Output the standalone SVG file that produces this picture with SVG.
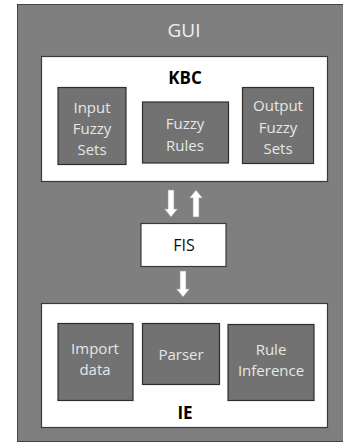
<svg xmlns="http://www.w3.org/2000/svg" width="343" height="443" viewBox="0 0 343 443">
<style>
.outer{fill:#7f7f7f;stroke:#444;stroke-width:1}
.panel{fill:#fff;stroke:#3a3a3a;stroke-width:1.2}
.box{fill:#727272;stroke:#2e2e2e;stroke-width:1.2}
.lt{font-family:"Open Sans","Liberation Sans",sans-serif;font-size:15px;fill:#e6e6e6;text-anchor:middle}
.dk{font-family:"Open Sans","Liberation Sans",sans-serif;font-size:16px;fill:#111;text-anchor:middle}
.bd{font-family:"Open Sans","Liberation Sans",sans-serif;font-size:17px;font-weight:bold;fill:#000;text-anchor:middle}
.arrow{fill:#fff;stroke:#9a9a9a;stroke-width:0.6}
</style>
<g id="gui">
<rect class="outer" x="17.5" y="4.5" width="330" height="437"/>
<text class="lt" x="184" y="37" style="font-size:19px;fill:#f0f0f0">GUI</text>
</g>
<g id="kbc">
<rect class="panel" x="41.5" y="56.5" width="286" height="125"/>
<text class="bd" x="185" y="84">KBC</text>
</g>
<g id="input-fuzzy-sets">
<rect class="box" x="58" y="87.5" width="68" height="77"/>
<text class="lt" x="92" y="113">Input</text>
<text class="lt" x="92" y="134">Fuzzy</text>
<text class="lt" x="92" y="155">Sets</text>
</g>
<g id="fuzzy-rules">
<rect class="box" x="142.5" y="102" width="86" height="61"/>
<text class="lt" x="185" y="129">Fuzzy</text>
<text class="lt" x="185" y="151">Rules</text>
</g>
<g id="output-fuzzy-sets">
<rect class="box" x="242.5" y="87.5" width="71" height="76"/>
<text class="lt" x="278" y="111">Output</text>
<text class="lt" x="278" y="133">Fuzzy</text>
<text class="lt" x="278" y="154">Sets</text>
</g>
<g id="fis">
<rect class="panel" x="141" y="223.5" width="85" height="43"/>
<text class="dk" x="184" y="251">FIS</text>
</g>
<g id="ie">
<rect class="panel" x="41.5" y="303.5" width="286" height="124"/>
<text class="bd" x="185" y="419">IE</text>
</g>
<g id="import-data">
<rect class="box" x="58" y="323.5" width="75" height="77"/>
<text class="lt" x="95" y="354">Import</text>
<text class="lt" x="95" y="375">data</text>
</g>
<g id="parser">
<rect class="box" x="142.5" y="323.5" width="77" height="61"/>
<text class="lt" x="181" y="360">Parser</text>
</g>
<g id="rule-inference">
<rect class="box" x="228" y="324.5" width="86" height="76"/>
<text class="lt" x="271" y="355">Rule</text>
<text class="lt" x="271" y="376">Inference</text>
</g>
<g id="connectors">
<polygon class="arrow" points="168,190 174,190 174,209 177.5,209 171,217 164.5,209 168,209"/>
<polygon class="arrow" points="193,217 199,217 199,198 202.5,198 196,190 189.5,198 193,198"/>
<polygon class="arrow" points="180,271 186,271 186,289 189.5,289 183,297 176.5,289 180,289"/>
</g>
</svg>
